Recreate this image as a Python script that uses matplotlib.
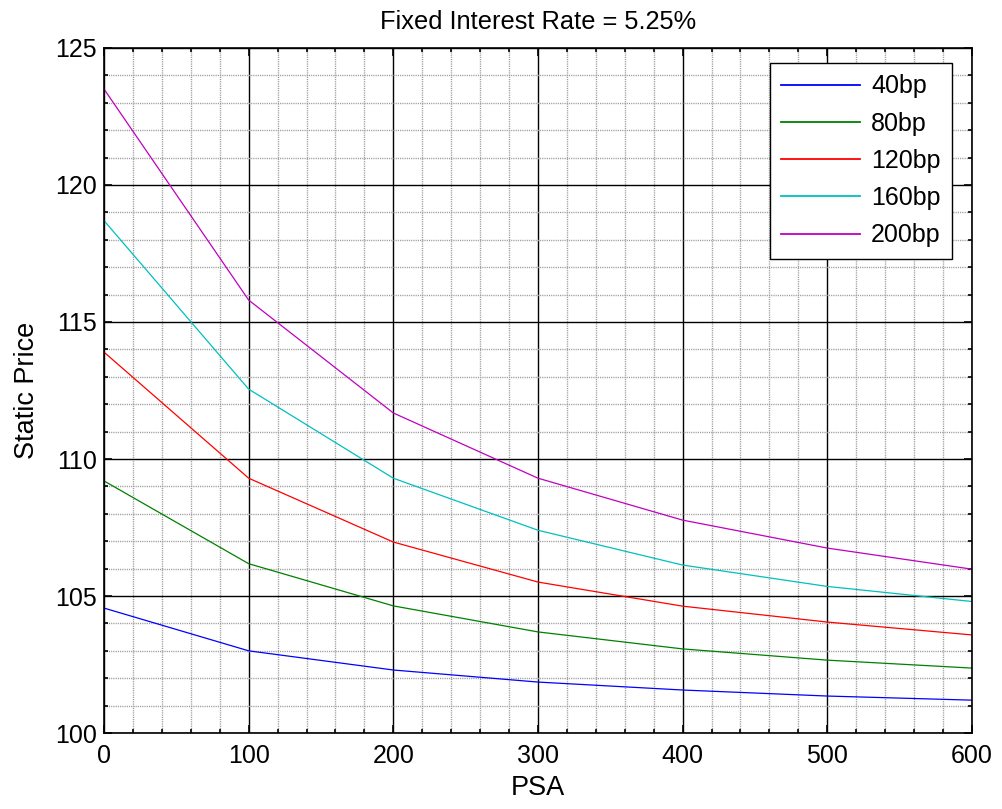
import matplotlib
matplotlib.use("Agg")
import matplotlib.pyplot as plt
from matplotlib.ticker import MultipleLocator

plt.rcParams['font.family'] = ['Liberation Sans', 'DejaVu Sans']

psa = [0, 100, 200, 300, 400, 500, 600]
labels = ['40bp', '80bp', '120bp', '160bp', '200bp']
colors = ['#0000ff', '#008000', '#ff0000', '#00bfbf', '#bf00bf']
s40 = [104.56, 103.00, 102.30, 101.86, 101.57, 101.35, 101.20]
s80 = [109.20, 106.18, 104.64, 103.69, 103.07, 102.66, 102.37]
s120 = [113.90, 109.30, 106.97, 105.51, 104.63, 104.05, 103.58]
s160 = [118.70, 112.55, 109.30, 107.40, 106.13, 105.35, 104.80]
s200 = [123.50, 115.80, 111.68, 109.30, 107.77, 106.75, 105.98]
series = [s40, s80, s120, s160, s200]

fig = plt.figure(figsize=(10.02, 8.09), dpi=100)
ax = fig.add_axes([0.1038, 0.0939, 0.8662, 0.8468])

for ys, lab, c in zip(series, labels, colors):
    ax.plot(psa, ys, color=c, lw=0.9, label=lab)

ax.set_xlim(0, 600)
ax.set_ylim(100, 125)
ax.xaxis.set_major_locator(MultipleLocator(100))
ax.yaxis.set_major_locator(MultipleLocator(5))
ax.xaxis.set_minor_locator(MultipleLocator(20))
ax.yaxis.set_minor_locator(MultipleLocator(1))
ax.grid(which='major', color='black', lw=1.0, ls='-')
ax.grid(which='minor', color='#999999', lw=1.0, ls=(0, (0.8, 0.8)))
ax.set_axisbelow(True)
ax.tick_params(which='both', direction='in', top=True, right=True, labelsize=18, width=1.2)
ax.tick_params(which='major', length=6)
ax.tick_params(which='minor', length=3)
ax.tick_params(axis='x', which='major', pad=8)
ax.tick_params(axis='y', which='major', pad=5)
for sp in ax.spines.values():
    sp.set_linewidth(1.2)

ax.set_xlabel('PSA', fontsize=19.5, labelpad=5)
ax.set_ylabel('Static Price', fontsize=19.5, labelpad=11)
ax.set_title('Fixed Interest Rate = 5.25%', fontsize=18.3, pad=14)

leg = ax.legend(loc='upper right', bbox_to_anchor=(0.977, 0.978), fontsize=18,
                frameon=True, fancybox=False, edgecolor='black', framealpha=1,
                borderaxespad=0, handlelength=3.15, handletextpad=0.45,
                labelspacing=0.53, borderpad=0.45)
leg.get_frame().set_linewidth(1.0)
for ln in leg.get_lines():
    ln.set_linewidth(1.3)

fig.savefig('out.png', dpi=100)
